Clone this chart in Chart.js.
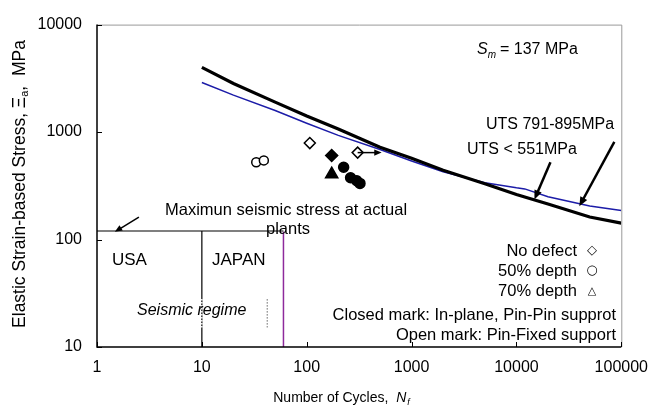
<!DOCTYPE html>
<html>
<head>
<meta charset="utf-8">
<script src="https://cdn.jsdelivr.net/npm/chart.js@4.4.1/dist/chart.umd.min.js"></script>
<style>
  html, body { margin: 0; padding: 0; background: #fff; }
  #chart { display: block; }
</style>
</head>
<body>
<canvas id="chart" width="659" height="410"></canvas>
<script>
// axis ticks
var xTicks = [1, 10, 100, 1000, 10000, 100000];
var yTicks = [10, 100, 1000, 10000];

// design fatigue curves (cycles, MPa)
var cyclesLow = [10, 20, 50, 100, 200, 500, 1000, 2000, 5000, 10000, 20000, 50000, 100000];
var utsLow = [4000, 2830, 1900, 1410, 1070, 724, 572, 441, 331, 262, 214, 162, 142];
var cyclesHigh = [10, 20, 50, 100, 200, 500, 1000, 2000, 5000, 10000, 12000, 20000, 50000, 100000];
var utsHigh = [2896, 2206, 1586, 1207, 931, 689, 538, 427, 338, 303, 296, 250, 205, 186];

// test results
var openDiamondN = [107, 306];
var openDiamondS = [790, 644];
var openCircleN = [33, 39];
var openCircleS = [523, 545];
var closedDiamondN = [173];
var closedDiamondS = [605];
var closedTriangleN = [173];
var closedTriangleS = [406];
var closedCircleN = [225, 262, 300, 322];
var closedCircleS = [471, 376, 352, 333];

// seismic region
var seismicN = [1, 60];
var seismicS = [120, 120];
var usaJapanN = [10, 10];
var usaJapanS = [120, 10];
var purpleN = [60, 60];
var purpleS = [118, 10];
var dottedN = [42, 42];
var dottedS = [27.9, 15.2];

// arrows [fromN, fromS, toN, toS]
var arrowSeismic = [2.51, 162, 1.48, 118];
var arrowRunout = [306, 644, 518, 644];
var arrowUtsLow = [21100, 523, 14840, 236];
var arrowUtsHigh = [85800, 811, 39800, 204];

function pts(xs, ys) {
  return xs.map(function (x, i) { return { x: x, y: ys[i] }; });
}

var FONT = 'Liberation Sans, Arial, sans-serif';

function arrow(ctx, x1, y1, x2, y2, head) {
  var a = Math.atan2(y2 - y1, x2 - x1);
  ctx.beginPath();
  ctx.moveTo(x1, y1);
  ctx.lineTo(x2 - Math.cos(a) * head * 0.6, y2 - Math.sin(a) * head * 0.6);
  ctx.stroke();
  ctx.beginPath();
  ctx.moveTo(x2, y2);
  ctx.lineTo(x2 - head * Math.cos(a - 0.4), y2 - head * Math.sin(a - 0.4));
  ctx.lineTo(x2 - head * Math.cos(a + 0.4), y2 - head * Math.sin(a + 0.4));
  ctx.closePath();
  ctx.fill();
}

var decorations = {
  id: 'decorations',
  afterDatasetsDraw: function (chart) {
    var ctx = chart.ctx;
    var xs = chart.scales.x, ys = chart.scales.y;
    var a = chart.chartArea;
    ctx.save();

    // frame
    ctx.strokeStyle = '#999';
    ctx.lineWidth = 1;
    ctx.beginPath();
    ctx.moveTo(a.left, a.top + 0.5);
    ctx.lineTo(a.right + 0.5, a.top + 0.5);
    ctx.lineTo(a.right + 0.5, a.bottom);
    ctx.stroke();
    ctx.strokeStyle = '#000';
    ctx.lineWidth = 1.5;
    ctx.beginPath();
    ctx.moveTo(a.left, a.top);
    ctx.lineTo(a.left, a.bottom);
    ctx.lineTo(a.right, a.bottom);
    ctx.stroke();

    // inside tick marks
    ctx.lineWidth = 1;
    xTicks.forEach(function (v) {
      var px = Math.round(xs.getPixelForValue(v)) + 0.5;
      ctx.beginPath(); ctx.moveTo(px, a.bottom); ctx.lineTo(px, a.bottom - 5); ctx.stroke();
    });
    yTicks.forEach(function (v) {
      var py = Math.round(ys.getPixelForValue(v)) + 0.5;
      ctx.beginPath(); ctx.moveTo(a.left, py); ctx.lineTo(a.left + 5, py); ctx.stroke();
    });

    // dashed marks
    ctx.setLineDash([1.5, 1.5]);
    ctx.strokeStyle = '#666';
    ctx.beginPath();
    ctx.moveTo(xs.getPixelForValue(dottedN[0]), ys.getPixelForValue(dottedS[0]));
    ctx.lineTo(xs.getPixelForValue(dottedN[1]), ys.getPixelForValue(dottedS[1]));
    ctx.stroke();
    ctx.strokeStyle = '#fff';
    ctx.lineWidth = 1.5;
    ctx.beginPath();
    ctx.moveTo(xs.getPixelForValue(usaJapanN[0]), ys.getPixelForValue(dottedS[0]));
    ctx.lineTo(xs.getPixelForValue(usaJapanN[0]), ys.getPixelForValue(dottedS[1]));
    ctx.stroke();
    ctx.setLineDash([]);

    // arrows
    ctx.strokeStyle = '#000';
    ctx.fillStyle = '#000';
    [[arrowSeismic, 1.5, 8], [arrowRunout, 1.5, 8], [arrowUtsLow, 2.5, 10], [arrowUtsHigh, 2.5, 10]].forEach(function (d) {
      var r = d[0];
      ctx.lineWidth = d[1];
      arrow(ctx, xs.getPixelForValue(r[0]), ys.getPixelForValue(r[1]),
        xs.getPixelForValue(r[2]), ys.getPixelForValue(r[3]), d[2]);
    });

    // texts
    ctx.fillStyle = '#000';
    ctx.textBaseline = 'middle';
    ctx.textAlign = 'left';
    ctx.font = '16.5px ' + FONT;
    ctx.fillText('Maximun seismic stress at actual', 165, 210);
    ctx.textAlign = 'center';
    ctx.fillText('plants', 288, 229);
    ctx.textAlign = 'left';
    ctx.font = '17px ' + FONT;
    ctx.fillText('USA', 112, 260);
    ctx.fillText('JAPAN', 212, 260);
    ctx.font = 'italic 16px ' + FONT;
    ctx.fillText('Seismic regime', 137, 311);

    ctx.font = '16px ' + FONT;
    ctx.fillText('UTS 791-895MPa', 486, 125);
    ctx.fillText('UTS < 551MPa', 467, 150);

    // S_m
    ctx.font = 'italic 16px ' + FONT;
    ctx.fillText('S', 477, 50);
    var sx = 477 + ctx.measureText('S').width;
    ctx.font = 'italic 10px ' + FONT;
    ctx.fillText('m', sx, 55);
    sx += ctx.measureText('m').width + 4;
    ctx.font = '16px ' + FONT;
    ctx.fillText('= 137 MPa', sx, 50);

    // legend notes
    ctx.textAlign = 'right';
    ctx.font = '16.5px ' + FONT;
    ctx.fillText('No defect', 577, 251);
    ctx.fillText('50% depth', 577, 271);
    ctx.fillText('70% depth', 577, 291);
    ctx.fillText('Closed mark: In-plane, Pin-Pin supprot', 616, 315);
    ctx.fillText('Open mark: Pin-Fixed support', 616, 335);
    ctx.textAlign = 'center';
    ctx.font = '13px DejaVu Sans';
    ctx.fillText('\u25C7', 592, 251);
    ctx.fillText('\u25CB', 592, 271);
    ctx.font = '11px DejaVu Sans';
    ctx.fillText('\u25B3', 592, 291);

    // x title
    ctx.textAlign = 'left';
    var t1 = 'Number of Cycles,  ';
    ctx.font = '14px ' + FONT;
    var w1 = ctx.measureText(t1).width;
    ctx.font = 'italic 14px ' + FONT;
    var w2 = ctx.measureText('N').width;
    ctx.font = 'italic 9px ' + FONT;
    var w3 = ctx.measureText('f').width;
    var x0 = 341 - (w1 + w2 + w3) / 2;
    ctx.font = '14px ' + FONT;
    ctx.fillText(t1, x0, 398);
    ctx.font = 'italic 14px ' + FONT;
    ctx.fillText('N', x0 + w1, 398);
    ctx.font = 'italic 9px ' + FONT;
    ctx.fillText('f', x0 + w1 + w2 + 1, 402);

    // y title
    ctx.translate(20, 184);
    ctx.rotate(-Math.PI / 2);
    var p1 = 'Elastic Strain-based Stress, ';
    var p2 = 'Ξ';
    var p3 = 'a';
    var p4 = ',  MPa';
    ctx.font = '17.5px ' + FONT;
    var q1 = ctx.measureText(p1).width, q2 = ctx.measureText(p2).width, q4 = ctx.measureText(p4).width;
    ctx.font = '11px ' + FONT;
    var q3 = ctx.measureText(p3).width;
    var y0 = -(q1 + q2 + q3 + q4) / 2;
    ctx.font = '17.5px ' + FONT;
    ctx.fillText(p1, y0, 0);
    ctx.fillText(p2, y0 + q1, 0);
    ctx.font = '11px ' + FONT;
    ctx.fillText(p3, y0 + q1 + q2, 5);
    ctx.font = '17.5px ' + FONT;
    ctx.fillText(p4, y0 + q1 + q2 + q3, 0);

    ctx.restore();
  }
};

function lineSet(xs, ys, color, width, order) {
  return { data: pts(xs, ys), showLine: true, borderColor: color, borderWidth: width,
    pointRadius: 0, fill: false, tension: 0, order: order };
}

function markSet(xs, ys, style, radius, filled, order) {
  return { data: pts(xs, ys), showLine: false, pointStyle: style, pointRadius: radius,
    pointBorderColor: '#000', pointBackgroundColor: filled ? '#000' : '#fff',
    pointBorderWidth: 1.5, order: order };
}

new Chart(document.getElementById('chart').getContext('2d'), {
  type: 'scatter',
  data: {
    datasets: [
      lineSet(cyclesHigh, utsHigh, '#1c1ca8', 1.5, 10),
      lineSet(cyclesLow, utsLow, '#000', 3.2, 9),
      lineSet(seismicN, seismicS, '#000', 1.2, 8),
      lineSet(usaJapanN, usaJapanS, '#000', 1.2, 8),
      lineSet(purpleN, purpleS, '#8e2a9c', 1.5, 8),
      markSet(openDiamondN, openDiamondS, 'rectRot', 5.5, false, 1),
      markSet(openCircleN, openCircleS, 'circle', 4.5, false, 1),
      markSet(closedDiamondN, closedDiamondS, 'rectRot', 6, true, 1),
      markSet(closedTriangleN, closedTriangleS, 'triangle', 7, true, 1),
      markSet(closedCircleN, closedCircleS, 'circle', 5, true, 1)
    ]
  },
  options: {
    responsive: false,
    animation: false,
    events: [],
    layout: { padding: { top: 17, right: 37, left: 0, bottom: 0 } },
    plugins: { legend: { display: false }, tooltip: { enabled: false } },
    scales: {
      x: {
        type: 'logarithmic', min: 1, max: 100000,
        afterBuildTicks: function (s) { s.ticks = xTicks.map(function (v) { return { value: v }; }); },
        afterFit: function (s) { s.height = 63; },
        grid: { display: false, drawTicks: false },
        border: { display: false },
        ticks: { autoSkip: false, maxRotation: 0, padding: 11, color: '#000',
          font: { family: FONT, size: 16 }, callback: function (v) { return String(v); } }
      },
      y: {
        type: 'logarithmic', min: 10, max: 10000,
        afterBuildTicks: function (s) { s.ticks = yTicks.map(function (v) { return { value: v }; }); },
        afterFit: function (s) { s.width = 97; },
        grid: { display: false, drawTicks: false },
        border: { display: false },
        ticks: { autoSkip: false, padding: 15, color: '#000',
          font: { family: FONT, size: 16 }, callback: function (v) { return String(v); } }
      }
    }
  },
  plugins: [decorations]
});
</script>
</body>
</html>
